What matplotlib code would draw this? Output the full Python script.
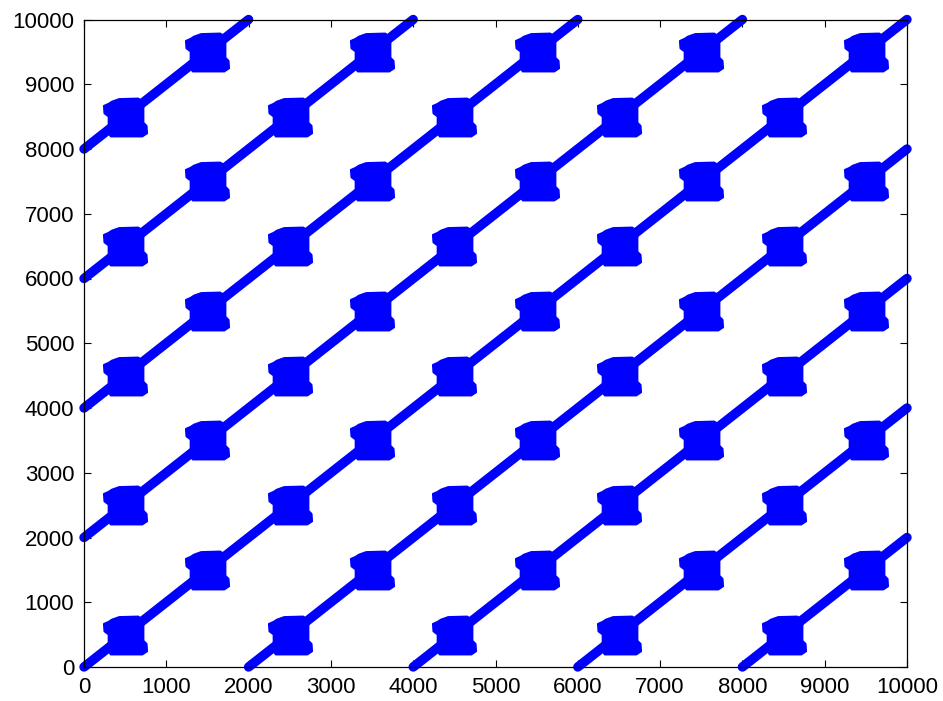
import matplotlib
matplotlib.use('Agg')
import matplotlib.pyplot as plt
from matplotlib.path import Path
import numpy as np

# diagonal lines y = x + offset
line_offsets = [-8000, -6000, -4000, -2000, 0, 2000, 4000, 6000, 8000]
# blob x positions along every line
blob_x = [500, 1500, 2500, 3500, 4500, 5500, 6500, 7500, 8500, 9500]

xlim = (0, 10000)
ylim = (0, 10000)
ticks = [0, 1000, 2000, 3000, 4000, 5000, 6000, 7000, 8000, 9000, 10000]

blue = '#0000ff'

# outline of one blob (pixels around its centre, y up)
blob_outline = np.array([
    (-13, 15), (-6, 17.5), (12, 18), (17, 15), (17, -5), (20, -8),
    (20.5, -15), (16, -18), (-14, -18), (-16, -15), (-16, 1), (-20, 4),
    (-20.5, 11), (-16, 13), (-13, 15),
])


def main():
    plt.rcParams['font.family'] = ['Liberation Sans', 'DejaVu Sans']
    fig = plt.figure(figsize=(9.43, 7.01), dpi=100)
    ax = fig.add_axes([84 / 943, 1 - 667 / 701, (907 - 84) / 943, (667 - 19.5) / 701])

    blob = Path(blob_outline, closed=True)
    bx = np.array(blob_x, dtype=float)
    for c in line_offsets:
        x0 = max(xlim[0], ylim[0] - c)
        x1 = min(xlim[1], ylim[1] - c)
        ax.plot([x0, x1], [x0 + c, x1 + c], color=blue, lw=6.8,
                solid_capstyle='round', clip_on=False, zorder=2)
        yy = bx + c
        keep = (yy > ylim[0]) & (yy < ylim[1])
        ax.plot(bx[keep], yy[keep], ls='none', marker=blob, ms=31,
                mfc=blue, mec=blue, mew=1.5, clip_on=False, zorder=3)

    ax.set_xlim(*xlim)
    ax.set_ylim(*ylim)
    ax.set_xticks(ticks)
    ax.set_yticks(ticks)
    ax.tick_params(direction='in', length=5, width=0.8, top=True, right=True,
                   labelsize=16, pad=7)
    for sp in ax.spines.values():
        sp.set_linewidth(0.9)

    plt.savefig('out.png', dpi=100)


if __name__ == '__main__':
    main()
